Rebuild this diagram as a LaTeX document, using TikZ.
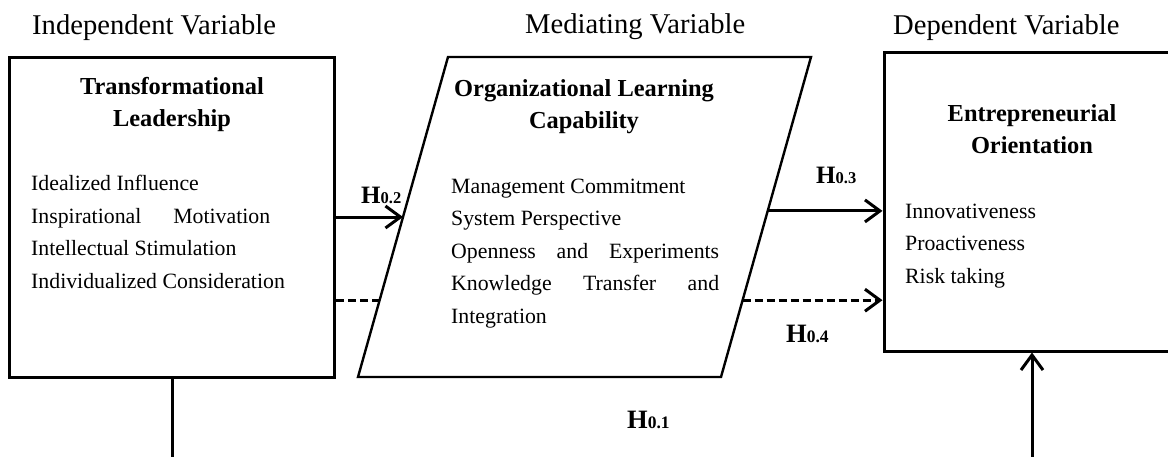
\documentclass[tikz,border=0pt]{standalone}
\usepackage{fontspec}
\setmainfont{Liberation Serif}
\usetikzlibrary{arrows.meta,calc}

\tikzset{
  varbox/.style={draw, line width=3pt, inner sep=0pt},
  heading/.style={anchor=base west, inner sep=0pt, font=\fontsize{28.6}{30}\selectfont},
  boxtitle/.style={anchor=base, inner sep=0pt, align=center, font=\fontsize{24.4}{32}\selectfont\bfseries},
  itemlist/.style={anchor=base west, inner sep=0pt, align=left, font=\fontsize{21.8}{32.4}\selectfont},
  hyp/.style={anchor=base west, inner sep=0pt, font=\fontsize{25}{26}\selectfont\bfseries},
  hypbig/.style={hyp, font=\fontsize{26.5}{28}\selectfont\bfseries},
  link/.style={line width=3pt},
}
\newcommand{\hypo}[1]{H{\fontsize{0.66em}{1em}\selectfont #1}}

\begin{document}
\begin{tikzpicture}[x=1pt,y=-1pt,>={Straight Barb[length=15pt,width=22pt]}]
  \clip (0,0) rectangle (1168,456);
  % headings
  \node[heading] (hindep) at (32,34) {Independent Variable};
  \node[heading] (hmed) at (525,33) {Mediating Variable};
  \node[heading] (hdep) at (893,34) {Dependent Variable};
  % boxes
  \node[varbox, minimum width=325pt, minimum height=320pt] (indep) at (172,217) {};
  \node[varbox, minimum width=296pt, minimum height=299pt] (eo) at (1032,201.5) {};
  \coordinate (olcBL) at (358,377);
  \coordinate (olcTL) at (448,57);
  \coordinate (olcTR) at (811,57);
  \coordinate (olcBR) at (721,377);
  \draw[line width=2.4pt] (olcBL) -- (olcTL) -- (olcTR) -- (olcBR) -- cycle;
  % box texts (base = last line)
  \node[boxtitle] (tltitle) at (172,126) {Transformational\\Leadership};
  \node[itemlist] (tlitems) at (31,288) {Idealized Influence\\
    \makebox[239pt][s]{Inspirational Motivation}\\
    Intellectual Stimulation\\Individualized Consideration};
  \node[boxtitle] (olctitle) at (584,128) {Organizational Learning\\Capability};
  \node[itemlist] (olcitems) at (451,323) {Management Commitment\\System Perspective\\
    \makebox[268pt][s]{Openness and Experiments}\\
    \makebox[268pt][s]{Knowledge Transfer and}\\Integration};
  \node[boxtitle] (eotitle) at (1032,153) {Entrepreneurial\\Orientation};
  \node[itemlist] (eoitems) at (905,283) {Innovativeness\\Proactiveness\\Risk taking};
  % links
  \coordinate (olcL2) at ($(olcBL)!0.5!(olcTL)$);
  \coordinate (olcL4) at ($(olcBL)!0.24!(olcTL)$);
  \coordinate (olcR3) at ($(olcBR)!0.519!(olcTR)$);
  \coordinate (olcR4) at ($(olcBR)!0.24!(olcTR)$);
  \coordinate (botL) at (168,470);
  \coordinate (botR) at (1033,470);
  \draw[link,->] (indep.east) -- (olcL2);
  \draw[link,dash pattern=on 8pt off 4pt] (olcL4 -| indep.east) -- (olcL4);
  \draw[link,->] (olcR3) -- (olcR3 -| eo.west);
  \draw[link,dash pattern=on 8pt off 4pt,->] (olcR4) -- (olcR4 -| eo.west);
  \draw[link] (indep.south) -- (indep.south |- botL);
  \draw[link,->] (eo.south |- botR) -- (eo.south);
  % hypotheses
  \node[hyp] (h02) at (361,203) {\hypo{0.2}};
  \node[hyp] (h03) at (816,183) {\hypo{0.3}};
  \node[hypbig] (h04) at (786,342) {\hypo{0.4}};
  \node[hypbig] (h01) at (627,428) {\hypo{0.1}};
\end{tikzpicture}
\end{document}
